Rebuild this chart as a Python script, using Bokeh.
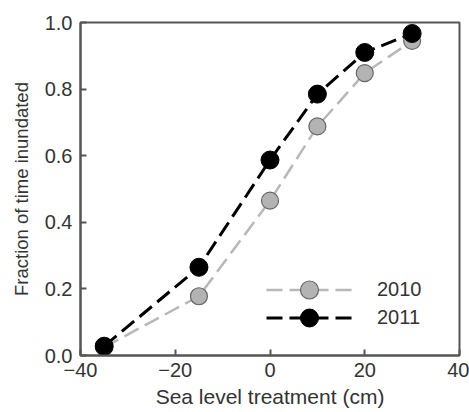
from bokeh.plotting import figure
from bokeh.models import Range1d, FixedTicker, Legend, LegendItem
from bokeh.embed import file_html
from bokeh.resources import INLINE

x_vals = [-35, -15, 0, 10, 20, 30]
y_2010 = [0.025, 0.178, 0.465, 0.688, 0.848, 0.945]
y_2011 = [0.028, 0.265, 0.587, 0.785, 0.910, 0.967]
x_ticks = [-40, -20, 0, 20, 40]
x_tick_labels = ["\u221240", "\u221220", "0", "20", "40"]
y_ticks = [0.0, 0.2, 0.4, 0.6, 0.8, 1.0]
y_tick_labels = ["0.0", "0.2", "0.4", "0.6", "0.8", "1.0"]
series_names = ["2010", "2011"]

FONT = "Liberation Sans"
TXT = "#333333"
FRAME = "#555555"

p = figure(frame_width=379, frame_height=333, output_backend="svg",
           toolbar_location=None, x_range=Range1d(-40, 40), y_range=Range1d(0, 1),
           min_border_left=80, min_border_top=22, min_border_right=10, min_border_bottom=40)
p.xgrid.visible = False
p.ygrid.visible = False
p.outline_line_color = FRAME
p.outline_line_width = 2
p.background_fill_color = "white"
p.border_fill_color = "white"

for ax in (p.xaxis[0], p.yaxis[0]):
    ax.axis_line_color = FRAME
    ax.axis_line_width = 2
    ax.major_tick_line_color = FRAME
    ax.major_tick_line_width = 2
    ax.major_tick_in = 6
    ax.major_tick_out = 0
    ax.minor_tick_line_color = None
    ax.major_label_text_font = FONT
    ax.major_label_text_font_size = "20px"
    ax.major_label_text_color = TXT
    ax.axis_label_text_font = FONT
    ax.axis_label_text_font_style = "normal"
    ax.axis_label_text_color = TXT

p.xaxis.ticker = FixedTicker(ticks=x_ticks)
p.xaxis.major_label_overrides = {t: l for t, l in zip(x_ticks, x_tick_labels)}
p.yaxis.ticker = FixedTicker(ticks=y_ticks)
p.yaxis.major_label_overrides = {t: l for t, l in zip(y_ticks, y_tick_labels)}
p.xaxis.axis_label = "Sea level treatment (cm)"
p.yaxis.axis_label = "Fraction of time inundated"
p.xaxis.axis_label_text_font_size = "21px"
p.yaxis.axis_label_text_font_size = "18.5px"
p.xaxis.major_label_standoff = 7
p.yaxis.major_label_standoff = 8
p.xaxis.axis_label_standoff = 5
p.yaxis.axis_label_standoff = 10

l1 = p.line(x_vals, y_2010, line_color="#b8b8b8", line_width=2.5, line_dash="16 7")
l2 = p.line(x_vals, y_2011, line_color="black", line_width=3, line_dash="16 7")
s1 = p.scatter(x_vals, y_2010, size=17, fill_color="#b3b3b3", line_color="#666666", line_width=1.2)
s2 = p.scatter(x_vals, y_2011, size=18, fill_color="black", line_color="black", line_width=1)


def make_legend(label, renderers, offset_y):
    lg = Legend(items=[LegendItem(label=label, renderers=renderers)], location=(186, offset_y))
    lg.border_line_color = None
    lg.background_fill_alpha = 0
    lg.padding = 0
    lg.margin = 0
    lg.spacing = 0
    lg.glyph_width = 86
    lg.glyph_height = 45
    lg.label_height = 45
    lg.label_standoff = 25
    lg.label_text_font = FONT
    lg.label_text_font_size = "20px"
    lg.label_text_color = TXT
    return lg


p.add_layout(make_legend(series_names[0], [l1, s1], 43), "center")
p.add_layout(make_legend(series_names[1], [l2, s2], 15), "center")

open("out.html", "w").write(file_html(p, INLINE))
